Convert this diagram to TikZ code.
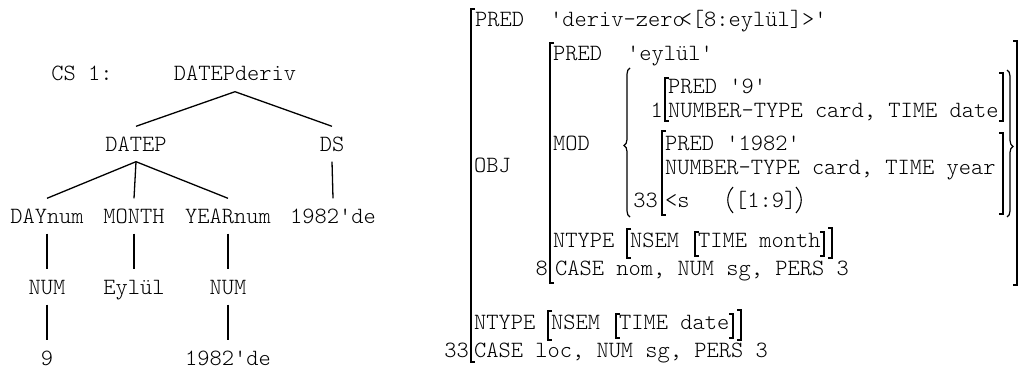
\documentclass[tikz,border=0pt]{standalone}
\usepackage{fontspec}
\newfontfamily\fsf{lmmonolt10-regular.otf}
\usetikzlibrary{decorations.pathreplacing}
\newcommand\fsLB[3]{\draw[brk] (#1+4,#2) -- (#1,#2) -- (#1,#3) -- (#1+4,#3);}
\newcommand\fsRB[3]{\draw[brk] (#1-4,#2) -- (#1,#2) -- (#1,#3) -- (#1-4,#3);}
\begin{document}
\begin{tikzpicture}[x=1pt,y=-1pt,
  every node/.style={font=\fsf\fontsize{23.3}{28}\selectfont, inner sep=0pt, text=black},
  tn/.style={anchor=center, text height=14pt, text depth=0pt, inner xsep=0pt, inner ysep=10.5pt},
  fs/.style={anchor=base west},
  fsr/.style={anchor=base east},
  edge/.style={line width=1.3pt},
  brk/.style={line width=1.3pt},
  par/.style={line width=1.1pt},
  brc/.style={line width=1.2pt, decorate, decoration={brace, amplitude=6pt}}]
\useasboundingbox (0,0) rectangle (1019,369);
% ---------- tree ----------
\node[tn] (cs) at (82,74) {CS 1:};
\node[tn] (root) at (235,74) {DATEPderiv};
\node[tn] (datep) at (136,144) {DATEP};
\node[tn] (ds) at (332,144) {DS};
\node[tn] (day) at (47,216) {DAYnum};
\node[tn] (month) at (134,216) {MONTH};
\node[tn] (year) at (228,216) {YEARnum};
\node[tn] (dsw) at (333,216) {1982'de};
\node[tn] (num1) at (47,287) {NUM};
\node[tn] (eyl) at (134,287) {Eylül};
\node[tn] (num2) at (228,287) {NUM};
\node[tn] (nine) at (47,358) {9};
\node[tn] (yw) at (228,358) {1982'de};
\draw[edge] (root.south) -- (datep.north);
\draw[edge] (root.south) -- (ds.north);
\draw[edge] (datep.south) -- (day.north);
\draw[edge] (datep.south) -- (month.north);
\draw[edge] (datep.south) -- (year.north);
\draw[edge] (ds.south) -- (dsw.north);
\draw[edge] (day.south) -- (num1.north);
\draw[edge] (month.south) -- (eyl.north);
\draw[edge] (year.south) -- (num2.north);
\draw[edge] (num1.south) -- (nine.north);
\draw[edge] (num2.south) -- (yw.north);
% ---------- f-structure ----------
\node[fs] (pred1) at (475,27) {PRED};
\node[fs] (pv1) at (550,27) {'deriv-zero\kern-5pt<[8:eylül]>'};
\node[fs] (obj) at (474,172) {OBJ};
\node[fs] (pred2) at (553,60) {PRED};
\node[fs] (pv2) at (627,60) {'eylül'};
\node[fs] (mod) at (553,150) {MOD};
\node[fsr] (i1) at (663,117) {1};
\node[fs] (e1a) at (668,93) {PRED '9'};
\node[fs] (e1b) at (668,117) {NUMBER-TYPE card, TIME date};
\node[fs] (e2a) at (665,150) {PRED '1982'};
\node[fs] (e2b) at (665,174) {NUMBER-TYPE card, TIME year};
\node[fs] (e2c) at (665,207) {<s};
\node[fs] (e2d) at (735,207) {[1:9]};
\node[fsr] (i33a) at (658,207) {33};
\node[fs] (nt1) at (553,247) {NTYPE};
\node[fs] (ns1) at (630,247) {NSEM};
\node[fs] (tm1) at (698,247) {TIME month};
\node[fsr] (i8) at (548,275) {8};
\node[fs] (cs1) at (555,275) {CASE nom, NUM sg, PERS 3};
\node[fs] (nt2) at (474,329) {NTYPE};
\node[fs] (ns2) at (551,329) {NSEM};
\node[fs] (tm2) at (619,329) {TIME date};
\node[fsr] (i33b) at (469,357) {33};
\node[fs] (cs2) at (474,357) {CASE loc, NUM sg, PERS 3};
% parentheses around [1:9]
\draw[par] (733,187) .. controls (726,195) and (726,205) .. (733,213);
\draw[par] (796,187) .. controls (803,195) and (803,205) .. (796,213);
% brackets
\fsLB{471}{9}{362}
\fsLB{550}{43}{283}
\fsRB{1017}{41}{285}
\fsLB{665}{78}{121}
\fsRB{1003}{73}{121}
\fsLB{662}{131}{215}
\fsRB{1003}{133}{214}
\fsLB{627}{229}{258}
\fsLB{695}{232}{256}
\fsRB{824}{232}{256}
\fsRB{832}{228}{258}
\fsLB{548}{311}{340}
\fsLB{616}{314}{338}
\fsRB{733}{314}{338}
\fsRB{741}{310}{340}
% braces
\draw[brc, decoration={aspect=0.48}] (630,217) -- (630,68);
\draw[brc, decoration={aspect=0.52}] (1007,70) -- (1007,217);
\end{tikzpicture}
\end{document}
